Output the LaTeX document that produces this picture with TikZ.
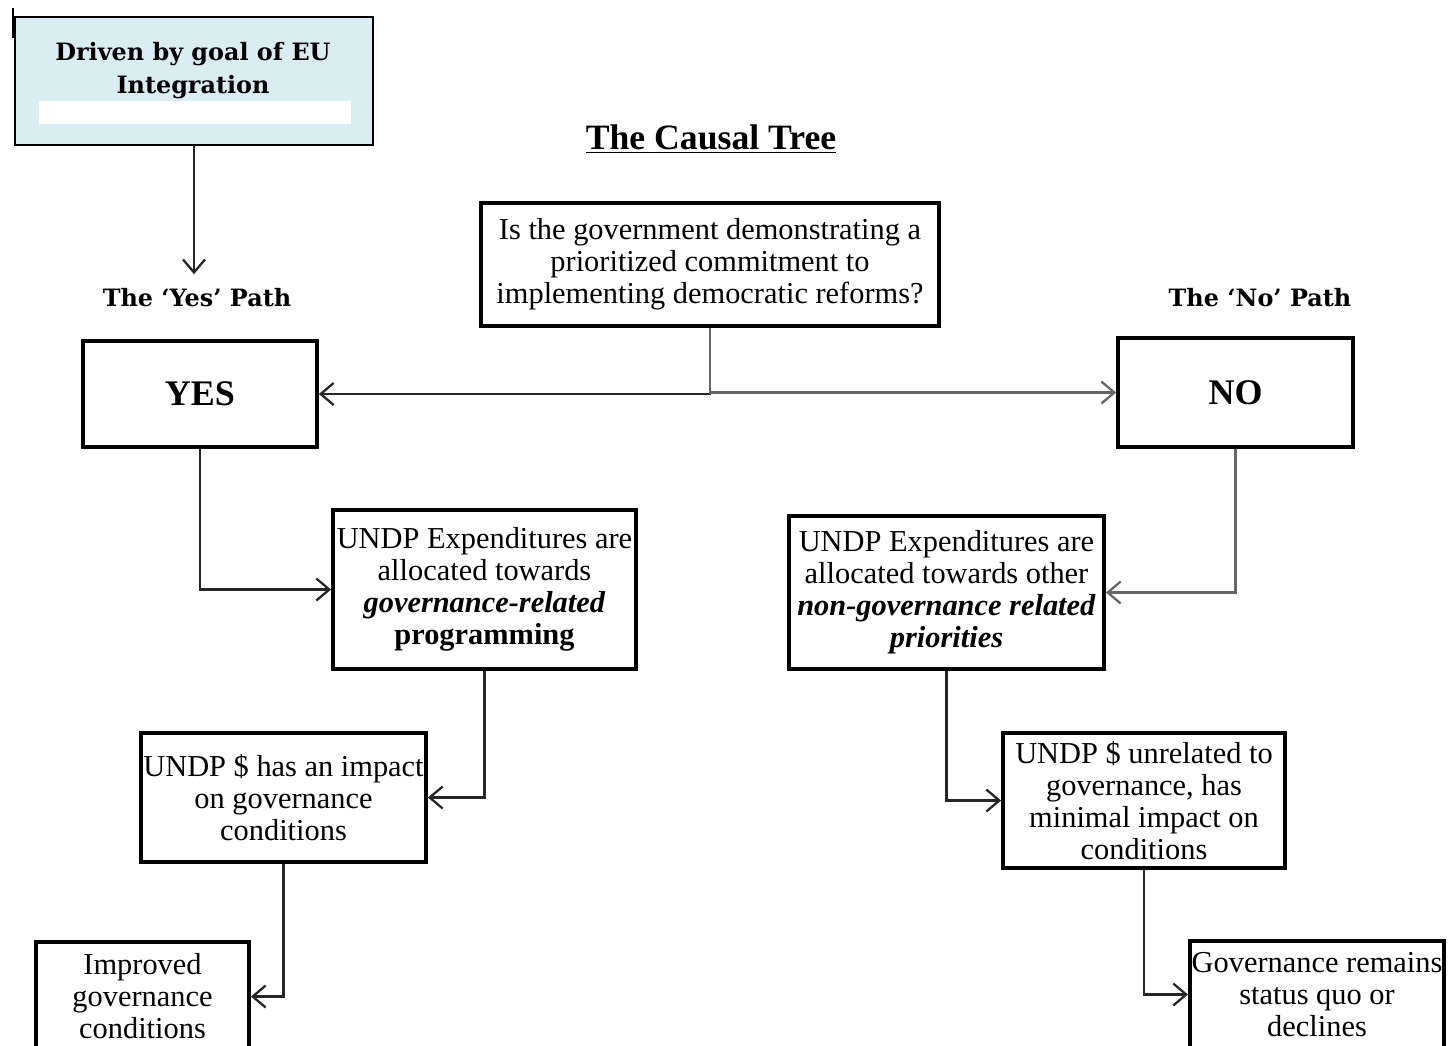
\documentclass[tikz,border=0pt]{standalone}
\usepackage{fontspec}
\setmainfont{Liberation Serif}
\newfontfamily\labelfont{DejaVu Serif}
\usetikzlibrary{arrows.meta,positioning}

\tikzset{
  box/.style={draw, line width=2.2pt, fill=white, inner sep=1pt, align=center,
    font=\fontsize{17.3}{18.2}\selectfont},
  eubox/.style={draw, line width=1.4pt, fill=eublue, minimum width=7.16cm, minimum height=2.56cm},
  pathlbl/.style={font=\labelfont\bfseries\fontsize{13.6}{18.7}\selectfont, align=center},
  conn/.style={line width=1.3pt, draw=black!85, -{Straight Barb[length=0.26cm,width=0.44cm]}},
}
\definecolor{eublue}{HTML}{DAEDF3}

\begin{document}
\begin{tikzpicture}[x=0.02cm, y=-0.02cm]
\clip (0,0) rectangle (1449,1045);
\useasboundingbox (0,0) rectangle (1449,1045);

% top left: EU goal
\draw[line width=1.4pt] (13,8) -- (13,38);
\node[eubox] (eu) at (194,81) {};
\node[pathlbl] (eutxt) at (193,71) {Driven by goal of EU\\Integration};
\fill[white] (39,101) rectangle (351,124);

% title and question
\node[font=\bfseries\fontsize{20.3}{24}\selectfont] (title) at (711,139) {\underline{The Causal Tree}};
\node[box, minimum width=9.16cm, minimum height=2.46cm] (q) at (710,264.5)
  {Is the government demonstrating a\\prioritized commitment to\\implementing democratic reforms?};

% path labels
\node[pathlbl] (yeslbl) at (197,298) {The ‘Yes’ Path};
\node[pathlbl] (nolbl) at (1260,298) {The ‘No’ Path};

% yes / no
\node[box, font=\bfseries\fontsize{20.5}{24}\selectfont, minimum width=4.68cm, minimum height=2.12cm] (yes) at (200,394) {YES};
\node[box, font=\bfseries\fontsize{20.5}{24}\selectfont, minimum width=4.7cm, minimum height=2.18cm] (no) at (1235.5,392.5) {NO};

% expenditures
\node[box, minimum width=6.06cm, minimum height=3.18cm] (a) at (484.5,589.5)
  {UNDP Expenditures are\\allocated towards\\\textbf{\textit{governance-related}}\\\textbf{programming}};
\node[box, minimum width=6.3cm, minimum height=3.06cm] (b) at (946.5,592.5)
  {UNDP Expenditures are\\allocated towards other\\\textbf{\textit{non-governance related}}\\\textbf{\textit{priorities}}};

% impact
\node[box, minimum width=5.7cm, minimum height=2.58cm] (c) at (283.5,797.5)
  {UNDP \$ has an impact\\on governance\\conditions};
\node[box, minimum width=5.64cm, minimum height=2.7cm] (d) at (1144,800.5)
  {UNDP \$ unrelated to\\governance, has\\minimal impact on\\conditions};

% outcomes
\node[box, minimum width=4.26cm, minimum height=2.18cm] (e) at (142.5,996.5)
  {Improved\\governance\\conditions};
\node[box, minimum width=5.08cm, minimum height=2.14cm] (f) at (1317,994.5)
  {Governance remains\\status quo or\\declines};

% connectors
\draw[conn] (eu.south) -- ++(0,128);
\draw[conn] (q.south) |- (yes.east);
\draw[conn, draw=black!60] (q.south) |- (no.west);
\draw[conn] (yes.south) |- (a.west);
\draw[conn, draw=black!60] (no.south) |- (b.east);
\draw[conn] (a.south) |- (c.east);
\draw[conn] (b.south) |- (d.west);
\draw[conn] (c.south) |- (e.east);
\draw[conn] (d.south) |- (f.west);
\end{tikzpicture}
\end{document}
